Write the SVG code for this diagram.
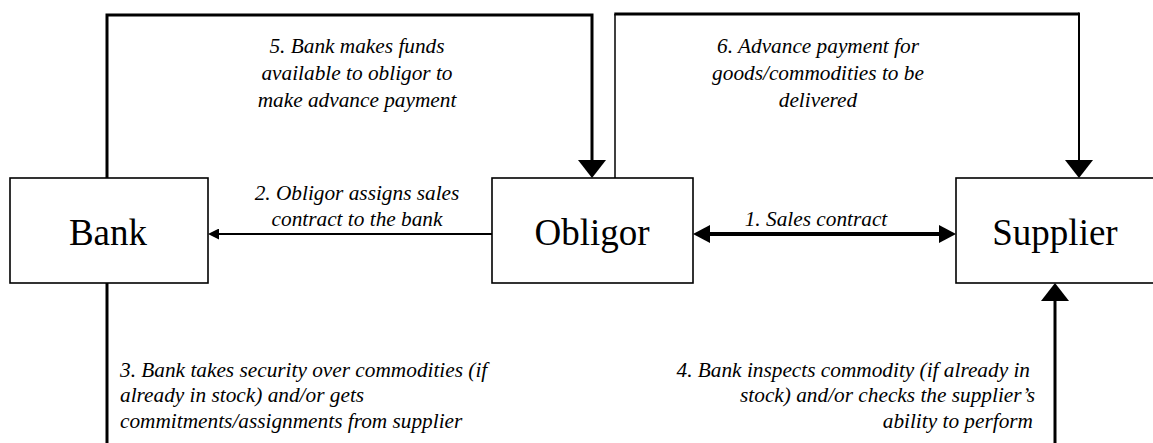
<svg xmlns="http://www.w3.org/2000/svg" width="1153" height="443" viewBox="0 0 1153 443">
<style>
.box{fill:#fff;stroke:#000;stroke-width:1.6}
.c{fill:none;stroke:#000;stroke-linejoin:miter}
</style>
<defs>
<marker id="big" markerUnits="userSpaceOnUse" viewBox="0 0 18 28" refX="0" refY="14" markerWidth="18" markerHeight="28" orient="auto"><path d="M0,0 L18,14 L0,28 z" fill="#000"/></marker>
<marker id="mid" markerUnits="userSpaceOnUse" viewBox="0 0 17 18" refX="0" refY="9" markerWidth="17" markerHeight="18" orient="auto-start-reverse"><path d="M0,0 L17,9 L0,18 z" fill="#000"/></marker>
<marker id="small" markerUnits="userSpaceOnUse" viewBox="0 0 11 11" refX="0" refY="5.5" markerWidth="11" markerHeight="11" orient="auto"><path d="M0,0 L11,5.5 L0,11 z" fill="#000"/></marker>
</defs>
<rect width="1153" height="443" fill="#fff"/>
<g id="connectors">
<path class="c" d="M107,178 V15 H592 V160" stroke-width="3" marker-end="url(#big)"/>
<path class="c" d="M615,178 V14" stroke-width="1.5"/>
<path class="c" d="M614.3,14 H1079" stroke-width="3"/>
<path class="c" d="M1079,12.5 V160" stroke-width="2" marker-end="url(#big)"/>
<path class="c" d="M492,234 H219" stroke-width="2" marker-end="url(#small)"/>
<path class="c" d="M710,234 H939" stroke-width="4" marker-start="url(#mid)" marker-end="url(#mid)"/>
<path class="c" d="M107,283 V443" stroke-width="3"/>
<path class="c" d="M1055,443 V301" stroke-width="3" marker-end="url(#big)"/>
<g font-family="Liberation Serif" font-style="italic" font-size="21.3" fill="#000">
<text text-anchor="middle"><tspan x="357" y="53">5. Bank makes funds</tspan><tspan x="357" y="80">available to obligor to</tspan><tspan x="357" y="107">make advance payment</tspan></text>
<text text-anchor="middle"><tspan x="818" y="53">6. Advance payment for</tspan><tspan x="818" y="80">goods/commodities to be</tspan><tspan x="818" y="107">delivered</tspan></text>
<text text-anchor="middle"><tspan x="357" y="200">2. Obligor assigns sales</tspan><tspan x="357" y="226">contract to the bank</tspan></text>
<text text-anchor="middle" x="816" y="226">1. Sales contract</text>
<text><tspan x="120" y="377">3. Bank takes security over commodities (if</tspan><tspan x="120" y="402">already in stock) and/or gets</tspan><tspan x="120" y="428">commitments/assignments from supplier</tspan></text>
<text text-anchor="end"><tspan x="1030" y="377">4. Bank inspects commodity (if already in</tspan><tspan x="1035" y="402">stock) and/or checks the supplier’s</tspan><tspan x="1033" y="428">ability to perform</tspan></text>
</g>
</g>
<g font-family="Liberation Serif" font-size="37" fill="#000" text-anchor="middle">
<g id="bank"><rect class="box" x="10" y="178" width="198" height="105"/><text x="108" y="245">Bank</text></g>
<g id="obligor"><rect class="box" x="492" y="178" width="201" height="105"/><text x="592" y="245">Obligor</text></g>
<g id="supplier"><rect class="box" x="956" y="178" width="200" height="105"/><text x="1055" y="245">Supplier</text></g>
</g>
</svg>
